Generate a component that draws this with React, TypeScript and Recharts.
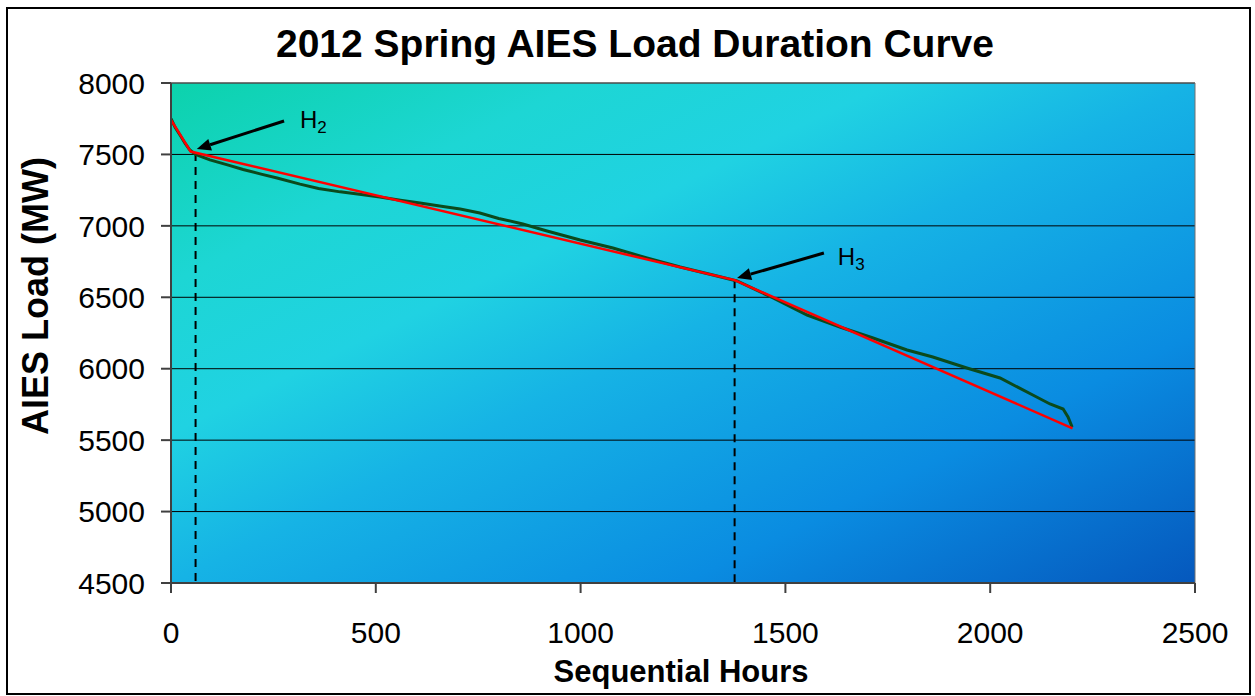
import React from 'react';
import { LineChart, Line, XAxis, YAxis, CartesianGrid, ReferenceLine, ReferenceDot } from 'recharts';

const greenHours = [0, 10, 22, 35, 46, 60, 95, 140, 176, 220, 259, 315, 360, 413, 460, 510, 560, 608, 660, 706, 754, 800, 859, 918, 999, 1079, 1162, 1243, 1323, 1382, 1470, 1553, 1633, 1714, 1797, 1860, 1943, 2024, 2104, 2146, 2178, 2190, 2200];
const greenLoad = [7750, 7690, 7636, 7575, 7531, 7500, 7462, 7425, 7395, 7362, 7335, 7292, 7262, 7238, 7222, 7202, 7180, 7160, 7138, 7118, 7090, 7052, 7013, 6964, 6901, 6845, 6775, 6712, 6656, 6614, 6495, 6376, 6292, 6215, 6131, 6082, 6005, 5935, 5816, 5753, 5718, 5662, 5592];
const redHours = [0, 48, 1376, 2201];
const redLoad = [7741, 7520, 6620, 5583];
const xTicks = [0, 500, 1000, 1500, 2000, 2500];
const yTicks = [4500, 5000, 5500, 6000, 6500, 7000, 7500, 8000];
const h2Hour = 60;
const h3Hour = 1376;

const greenData = greenHours.map((h, i) => ({ h, v: greenLoad[i] }));
const redData = redHours.map((h, i) => ({ h, v: redLoad[i] }));

const FONT = '"Liberation Sans", Arial, sans-serif';

const ArrowShape = (props: any) => {
  const { x1, y1, x2, y2 } = props;
  const ang = Math.atan2(y2 - y1, x2 - x1);
  const hl = 14, hw = 6;
  const bx = x2 - hl * Math.cos(ang), by = y2 - hl * Math.sin(ang);
  const px = -Math.sin(ang) * hw, py = Math.cos(ang) * hw;
  return (
    <g>
      <line x1={x1} y1={y1} x2={bx} y2={by} stroke="#000" strokeWidth={3} />
      <polygon points={`${x2},${y2} ${bx + px},${by + py} ${bx - px},${by - py}`} fill="#000" />
    </g>
  );
};

const makeLabel = (sub: string) => (props: any) => {
  const { cx, cy } = props;
  return (
    <text x={cx} y={cy} fontFamily={FONT} fontSize={24} fill="#000" textAnchor="start">
      H<tspan fontSize={17} dy={5}>{sub}</tspan>
    </text>
  );
};

export default function App() {
  return (
    <div style={{ position: 'absolute', left: 0, top: 0, width: 1255, height: 696, background: '#fff' }}>
      <div style={{ position: 'absolute', left: 6, top: 7, width: 1245, height: 688, border: '2px solid #000', boxSizing: 'border-box' }} />
      <div style={{ position: 'absolute', left: 0, top: 0 }}>
        <LineChart width={1255} height={696} margin={{ top: 83, right: 60, bottom: 0, left: 0 }}>
          <defs>
            <linearGradient id="bg" x1="0" y1="0" x2="1" y2="1">
              <stop offset="0" stopColor="#0cd2ac" />
              <stop offset="0.2" stopColor="#1dd6d4" />
              <stop offset="0.35" stopColor="#20d2e2" />
              <stop offset="0.5" stopColor="#16b3e5" />
              <stop offset="0.75" stopColor="#0a8ce1" />
              <stop offset="1" stopColor="#0558bd" />
            </linearGradient>
          </defs>
          <CartesianGrid vertical={false} stroke="#000" strokeWidth={1} fill="url(#bg)" fillOpacity={1} />
          <XAxis
            type="number"
            dataKey="h"
            domain={[0, 2500]}
            ticks={xTicks}
            height={113}
            tickSize={10}
            tickMargin={29}
            stroke="#404040"
            strokeWidth={2}
            tick={{ fontSize: 30, fill: '#000', fontFamily: FONT }}
            allowDataOverflow
          />
          <YAxis
            type="number"
            dataKey="v"
            domain={[4500, 8000]}
            ticks={yTicks}
            width={171}
            tickSize={10}
            tickMargin={16}
            stroke="#404040"
            strokeWidth={2}
            tick={{ fontSize: 30, fill: '#000', fontFamily: FONT }}
            allowDataOverflow
          />
          <ReferenceLine y={8000} stroke="#707070" strokeWidth={1} />
          <ReferenceLine x={2500} stroke="#707070" strokeWidth={1} />
          <ReferenceLine segment={[{ x: h2Hour, y: 7510 }, { x: h2Hour, y: 4500 }]} stroke="#000" strokeWidth={2} strokeDasharray="8 6" />
          <ReferenceLine segment={[{ x: h3Hour, y: 6620 }, { x: h3Hour, y: 4500 }]} stroke="#000" strokeWidth={2} strokeDasharray="8 6" />
          <Line data={greenData} dataKey="v" type="linear" stroke="#0b4a1c" strokeWidth={3} dot={false} isAnimationActive={false} />
          <Line data={redData} dataKey="v" type="linear" stroke="#ff0000" strokeWidth={2.5} dot={false} isAnimationActive={false} />
          <ReferenceLine segment={[{ x: 276, y: 7734 }, { x: 63, y: 7538 }]} shape={ArrowShape} />
          <ReferenceLine segment={[{ x: 1594, y: 6810 }, { x: 1382, y: 6635 }]} shape={ArrowShape} />
          <ReferenceDot x={315} y={7683} r={0} shape={makeLabel('2')} />
          <ReferenceDot x={1628} y={6726} r={0} shape={makeLabel('3')} />
        </LineChart>
      </div>
      <svg width={1255} height={696} style={{ position: 'absolute', left: 0, top: 0, pointerEvents: 'none' }}>
        <text x={635} y={57} textAnchor="middle" fontFamily={FONT} fontWeight="bold" fontSize={39} fill="#000">2012 Spring AIES Load Duration Curve</text>
        <text x={681} y={682} textAnchor="middle" fontFamily={FONT} fontWeight="bold" fontSize={31} fill="#000">Sequential Hours</text>
        <text transform="translate(48,296) rotate(-90)" textAnchor="middle" fontFamily={FONT} fontWeight="bold" fontSize={36} fill="#000">AIES Load (MW)</text>
      </svg>
    </div>
  );
}
